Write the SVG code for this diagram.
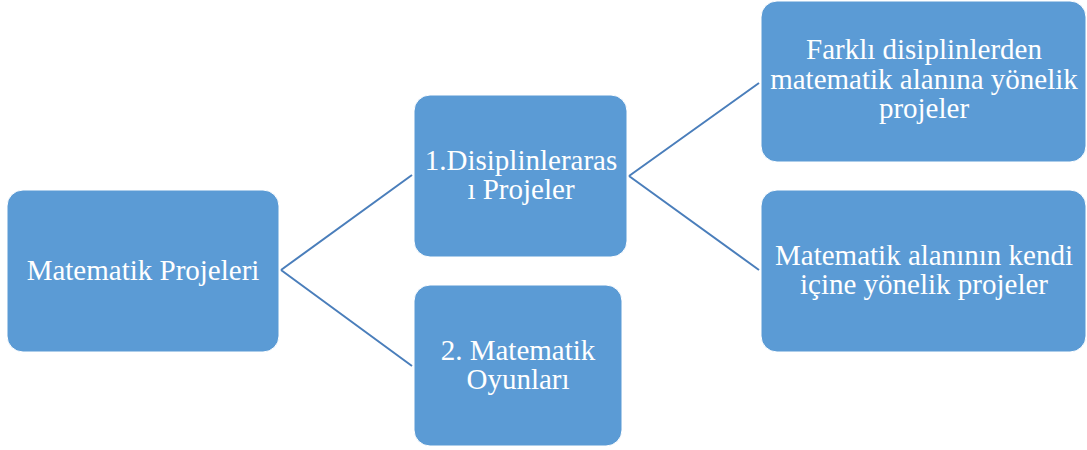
<svg xmlns="http://www.w3.org/2000/svg" width="1087" height="450" viewBox="0 0 1087 450">
<style>
.box{fill:#5B9BD5;stroke:#FFFFFF;stroke-width:1}
.c{stroke:#4A7EBB;stroke-width:2;fill:none}
text{font-family:"Liberation Serif","DejaVu Serif",serif}
</style>
<rect width="1087" height="450" fill="#FFFFFF"/>
<g id="connectors">
<path class="c" d="M281,270 L412,175 M281,270 L412,366"/>
<path class="c" d="M629,176 L759,83 M629,176 L759,270"/>
</g>
<g font-size="29" fill="#FFFFFF" text-anchor="middle">
<g id="node-root">
<rect class="box" x="7" y="190" width="272" height="162" rx="16"/>
<text x="143" y="280">Matematik Projeleri</text>
</g>
<g id="node-disiplin">
<rect class="box" x="414" y="95" width="213" height="162" rx="16"/>
<text x="521" y="170">1.Disiplinleraras</text>
<text x="521" y="199">ı Projeler</text>
</g>
<g id="node-oyun">
<rect class="box" x="414" y="285" width="208" height="161" rx="16"/>
<text x="518" y="360">2. Matematik</text>
<text x="518" y="389">Oyunları</text>
</g>
<g id="node-farkli">
<rect class="box" x="761" y="1" width="325" height="161" rx="16"/>
<text x="924" y="59">Farklı disiplinlerden</text>
<text x="924" y="89">matematik alanına yönelik</text>
<text x="924" y="118">projeler</text>
</g>
<g id="node-kendi">
<rect class="box" x="761" y="190" width="325" height="162" rx="16"/>
<text x="924" y="265">Matematik alanının kendi</text>
<text x="924" y="294">içine yönelik projeler</text>
</g>
</g>
</svg>
